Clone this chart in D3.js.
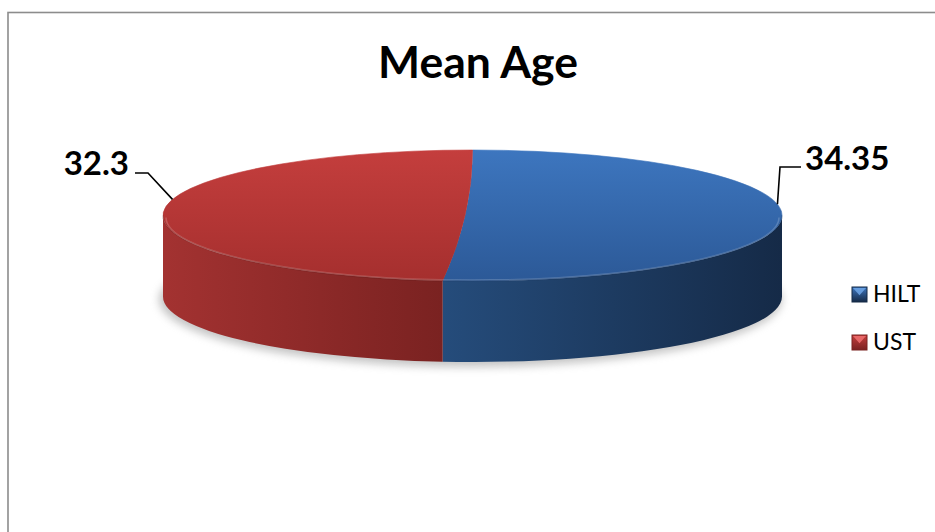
<!DOCTYPE html>
<html><head><meta charset="utf-8">
<script src="https://cdn.jsdelivr.net/npm/d3@7"></script>
<style>body{margin:0;background:#fff}svg{display:block}</style>
</head><body>
<svg id="c" width="935" height="532"></svg>
<script>
const title = "Mean Age";
const categories = ["HILT", "UST"];
const values = [34.35, 32.3];
const labelTexts = ["34.35", "32.3"];

const svg = d3.select("#c");
const font = "Lato, 'Open Sans', sans-serif";

// frame
svg.append("rect").attr("x", 8).attr("y", 12.5).attr("width", 1000).attr("height", 1000)
  .attr("fill", "#fff").attr("stroke", "#8c8c8c").attr("stroke-width", 1.6);

svg.append("text").attr("x", 478).attr("y", 78).attr("text-anchor", "middle")
  .attr("font-family", font).attr("font-weight", 700).attr("font-size", 44.5)
  .attr("fill", "#000").text(title);

const cx = 472.5, cy = 215.5, rx = 309.5, ry = 65.5, depth = 81;
const topCols = [["#3d76bf", "#2c5997"], ["#c43e3d", "#a52f2e"]];
const sideCols = [["#254c7b", "#152a47"], ["#a33231", "#7a2221"]];

const defs = svg.append("defs");
const pie = d3.pie().sort(null).startAngle(0).endAngle(2 * Math.PI);
const arcs = pie(values);

const px = a => cx + rx * Math.sin(a);
const py = (a, d = 0) => cy - ry * Math.cos(a) + d;

// shadow
const blur = defs.append("filter").attr("id", "blur").attr("x", "-20%").attr("y", "-50%").attr("width", "140%").attr("height", "200%");
blur.append("feGaussianBlur").attr("stdDeviation", 4);
svg.append("ellipse").attr("cx", cx - 2).attr("cy", cy + depth + 3).attr("rx", rx + 2).attr("ry", ry + 2)
  .attr("fill", "#8a8a8a").attr("opacity", 0.5).attr("filter", "url(#blur)");

// side walls (front visible part: angle in [PI/2, 3PI/2])
arcs.forEach((d, i) => {
  const a1 = Math.max(d.startAngle, Math.PI / 2), a2 = Math.min(d.endAngle, 3 * Math.PI / 2);
  if (a2 <= a1) return;
  const gid = "side" + i;
  const xa = Math.min(px(a1), px(a2)), xb = Math.max(px(a1), px(a2));
  const g = defs.append("linearGradient").attr("id", gid).attr("gradientUnits", "userSpaceOnUse")
    .attr("x1", xa).attr("x2", xb).attr("y1", 0).attr("y2", 0);
  g.append("stop").attr("offset", 0).attr("stop-color", sideCols[i][0]);
  g.append("stop").attr("offset", 1).attr("stop-color", sideCols[i][1]);
  const large = (a2 - a1) > Math.PI ? 1 : 0;
  const p = `M${px(a1)},${py(a1)} A${rx},${ry} 0 ${large} 1 ${px(a2)},${py(a2)}` +
    ` L${px(a2)},${py(a2, depth)} A${rx},${ry} 0 ${large} 0 ${px(a1)},${py(a1, depth)} Z`;
  svg.append("path").attr("d", p).attr("fill", `url(#${gid})`);
});

// top faces (slice edges drawn as smooth curves through the centre region)
arcs.forEach((d, i) => {
  const gid = "top" + i;
  const g = defs.append("linearGradient").attr("id", gid).attr("gradientUnits", "userSpaceOnUse")
    .attr("x1", 0).attr("x2", 0).attr("y1", cy - ry).attr("y2", cy + ry);
  g.append("stop").attr("offset", 0).attr("stop-color", topCols[i][0]);
  g.append("stop").attr("offset", 1).attr("stop-color", topCols[i][1]);
  const a1 = d.startAngle, a2 = d.endAngle;
  const large = (a2 - a1) > Math.PI ? 1 : 0;
  const p = `M${px(a1)},${py(a1)} A${rx},${ry} 0 ${large} 1 ${px(a2)},${py(a2)} Q${cx},${cy} ${px(a1)},${py(a1)} Z`;
  svg.append("path").attr("d", p).attr("fill", `url(#${gid})`)
    .attr("stroke", `url(#${gid})`).attr("stroke-width", 0.6);
});

// bevel highlight along the front rim
const hl = `M${cx - rx + 3},${cy + 2} A${rx - 3},${ry - 3} 0 0 0 ${cx + rx - 3},${cy + 2}`;
svg.append("path").attr("d", hl).attr("fill", "none").attr("stroke", "#ffffff")
  .attr("stroke-opacity", 0.18).attr("stroke-width", 1.5);
const rim = `M${cx - rx},${cy} A${rx},${ry} 0 0 0 ${cx + rx},${cy}`;
svg.append("path").attr("d", rim).attr("fill", "none").attr("stroke", "#000")
  .attr("stroke-opacity", 0.12).attr("stroke-width", 1.5);

// data labels with leader lines
const labelPos = [{x: 805, y: 170, anchor: "start", hx: 801, off: -0.22},
                  {x: 129, y: 175, anchor: "end", hx: 135, off: 0.2}];
arcs.forEach((d, i) => {
  const lp = labelPos[i];
  const mid = (d.startAngle + d.endAngle) / 2 + lp.off;
  const ax = px(mid), ay = py(mid);
  const ly = lp.y - 3 + (i === 1 ? 1 : 0);
  const kx = lp.anchor === "start" ? lp.hx - 21 : lp.hx + 13;
  svg.append("path").attr("d", `M${lp.hx},${ly} L${kx},${ly} L${ax},${ay}`)
    .attr("fill", "none").attr("stroke", "#000").attr("stroke-width", 1.6);
  svg.append("text").attr("x", lp.x).attr("y", lp.y).attr("text-anchor", lp.anchor)
    .attr("font-family", font).attr("font-weight", 700).attr("font-size", 33)
    .attr("fill", "#000").text(labelTexts[i]);
});

// legend
const legY = [302, 350];
categories.forEach((c, i) => {
  const x = 852, y = legY[i] - 15, s = 15;
  const gid = "leg" + i;
  const g = defs.append("linearGradient").attr("id", gid).attr("x1", 0).attr("x2", 0).attr("y1", 0).attr("y2", 1);
  g.append("stop").attr("offset", 0).attr("stop-color", topCols[i][0]);
  g.append("stop").attr("offset", 1).attr("stop-color", sideCols[i][1]);
  svg.append("rect").attr("x", x).attr("y", y).attr("width", s).attr("height", s)
    .attr("fill", `url(#${gid})`).attr("stroke", sideCols[i][1]).attr("stroke-width", 1);
  svg.append("path").attr("d", `M${x + 1},${y + 1} L${x + s - 1},${y + 1} L${x + s / 2},${y + s * 0.55} Z`)
    .attr("fill", i === 0 ? "#6fa6e6" : "#f07070").attr("opacity", 0.85);
  svg.append("text").attr("x", 873).attr("y", legY[i]).attr("font-family", font)
    .attr("font-size", 23).attr("fill", "#000").text(c);
});
</script>
</body></html>
